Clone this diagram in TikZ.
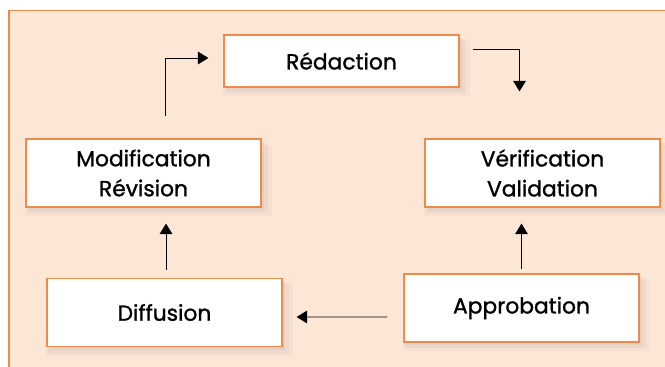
\documentclass[tikz,border=0pt]{standalone}
\usepackage{fontspec}
\setmainfont{Poppins}[FakeBold = 1.2]
\usetikzlibrary{arrows.meta, shadows}
\definecolor{peach}{HTML}{FCE6D6}
\definecolor{frameorange}{HTML}{F08A4B}
\tikzset{
    stage/.style = {draw = frameorange, fill = white, line width = 0.8pt, inner sep = 0pt, minimum width = 5.875cm, align = center, font = \fontsize{15.5}{21.3}\selectfont,
        drop shadow = {opacity = 0.05, shadow xshift = 3.5pt, shadow yshift = -5pt, shadow scale = 1.05},
        drop shadow = {opacity = 0.07, shadow xshift = 3pt, shadow yshift = -3.5pt, shadow scale = 1.025},
        drop shadow = {opacity = 0.09, shadow xshift = 2pt, shadow yshift = -2pt}},
    link/.style = {draw = black, line width = 0.7pt, -{Triangle[length = 7.5pt, width = 9pt, color = black]}}
}

\begin{document}
\begin{tikzpicture}[x = 0.025cm, y = -0.025cm]
            \useasboundingbox (0, 0) rectangle (665, 367);
            \fill[peach] (9, 10.5) rectangle (665, 367);
            \draw[frameorange, line width = 1pt] (665, 10.5) -- (9, 10.5) -- (9, 367);
            
            \node[stage, minimum height = 1.3cm] (redaction) at (341.5, 61) {Rédaction};
            \node[stage, minimum height = 1.7cm] (modif) at (143.5, 173) {Modification\\Révision};
            \node[stage, minimum height = 1.7cm] (verif) at (542.5, 173) {Vérification\\Validation};
            \node[stage, minimum height = 1.72cm] (diffusion) at (164.5, 312.5) {Diffusion};
            \node[stage, minimum height = 1.7cm] (approb) at (521.5, 308) {Approbation};
            
            \draw[link] ([shift = {(21.5, -22)}]modif.north) |- ([shift = {(-15, -3)}]redaction.west);
            \draw[link] ([shift = {(13, -12)}]redaction.east) -| ([shift = {(-23, -47)}]verif.north);
            \draw[link] ([shift = {(0, -4)}]approb.north) -- ([shift = {(-21, 16)}]verif.south);
            \draw[link] ([shift = {(-16, 9)}]approb.west) -- ([shift = {(14, 4.5)}]diffusion.east);
            \draw[link] ([shift = {(1.5, -8)}]diffusion.north) -- ([shift = {(22.5, 16)}]modif.south);
            
\end{tikzpicture}
\end{document}
